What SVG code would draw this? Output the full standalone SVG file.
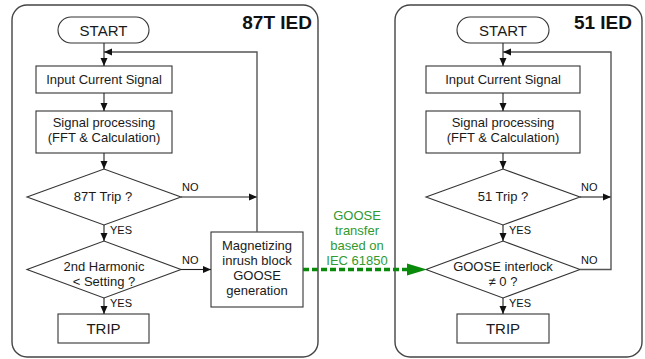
<svg xmlns="http://www.w3.org/2000/svg" width="645" height="359" viewBox="0 0 645 359">
  <defs>
    <marker id="arr" viewBox="0 0 8 8" refX="8" refY="4" markerWidth="8" markerHeight="8" markerUnits="userSpaceOnUse" orient="auto">
      <path d="M0,0.5 L8,4 L0,7.5 Z" fill="#111"/>
    </marker>
    <marker id="garr" viewBox="0 0 20 12" refX="20" refY="6" markerWidth="20" markerHeight="12" markerUnits="userSpaceOnUse" orient="auto">
      <path d="M0,0 L20,6 L0,12 Z" fill="#0a8a0a"/>
    </marker>
  </defs>
  <style>
    .panel { fill: #fff; stroke: #444; stroke-width: 1.4; }
    .box { fill: #fff; stroke: #333; stroke-width: 1.1; }
    .t { font-family: "Liberation Sans", Arial, sans-serif; font-size: 13px; fill: #1a1a1a; text-anchor: middle; }
    .big { font-size: 15px; }
    .title { font-family: "Liberation Sans", Arial, sans-serif; font-size: 19px; font-weight: bold; fill: #111; text-anchor: end; }
    .lbl { font-family: "Liberation Sans", Arial, sans-serif; font-size: 11px; fill: #111; }
    .line { fill: none; stroke: #222; stroke-width: 1.1; }
    .loop { fill: none; stroke: #555; stroke-width: 1.4; }
    .goose { fill: none; stroke: #0a8a0a; stroke-width: 3.5; stroke-dasharray: 6 3; }
    .gt { font-family: "Liberation Sans", Arial, sans-serif; font-size: 13px; fill: #2f9a2f; text-anchor: middle; }
  </style>

  <!-- IED frames -->
  <g id="panel-87t">
    <rect class="panel" x="12" y="5" width="306" height="352" rx="15"/>
    <text class="title" x="312" y="29">87T IED</text>
  </g>
  <g id="panel-51">
    <rect class="panel" x="395" y="5" width="247" height="352" rx="15"/>
    <text class="title" x="632" y="29">51 IED</text>
  </g>

  <!-- 87T IED flow -->
  <g id="start-87t">
    <rect class="box" x="58" y="17" width="91" height="26" rx="13"/>
    <text class="t big" x="103.5" y="36">START</text>
  </g>
  <g id="input-87t">
    <rect class="box" x="36" y="66" width="136" height="27"/>
    <text class="t" x="104" y="84">Input Current Signal</text>
  </g>
  <g id="proc-87t">
    <rect class="box" x="36" y="111" width="136" height="42"/>
    <text class="t" x="104" y="127">Signal processing</text>
    <text class="t" x="104" y="142">(FFT &amp; Calculation)</text>
  </g>
  <g id="trip-check-87t">
    <polygon class="box" points="27,197 104,169 181,197 104,225"/>
    <text class="t" x="103" y="201">87T Trip ?</text>
  </g>
  <g id="harmonic-check">
    <polygon class="box" points="27,269.5 104,241 181,269.5 104,298"/>
    <text class="t" x="104" y="271">2nd Harmonic</text>
    <text class="t" x="104" y="286">&lt; Setting ?</text>
  </g>
  <g id="trip-87t">
    <rect class="box" x="58" y="314" width="91" height="29"/>
    <text class="t big" x="103.5" y="334">TRIP</text>
  </g>
  <g id="inrush-goose">
    <rect class="box" x="211" y="232" width="92" height="75"/>
    <text class="t" x="257" y="250">Magnetizing</text>
    <text class="t" x="257" y="265">inrush block</text>
    <text class="t" x="257" y="280">GOOSE</text>
    <text class="t" x="257" y="295">generation</text>
  </g>

  <!-- 51 IED flow -->
  <g id="start-51">
    <rect class="box" x="457" y="17" width="92" height="26" rx="13"/>
    <text class="t big" x="503" y="36">START</text>
  </g>
  <g id="input-51">
    <rect class="box" x="426" y="66" width="154" height="27"/>
    <text class="t" x="503" y="84">Input Current Signal</text>
  </g>
  <g id="proc-51">
    <rect class="box" x="426" y="111" width="154" height="42"/>
    <text class="t" x="503" y="127">Signal processing</text>
    <text class="t" x="503" y="142">(FFT &amp; Calculation)</text>
  </g>
  <g id="trip-check-51">
    <polygon class="box" points="426,197 503,169 580,197 503,225"/>
    <text class="t" x="503" y="201">51 Trip ?</text>
  </g>
  <g id="interlock-check">
    <polygon class="box" points="426,269.5 503,241 580,269.5 503,298"/>
    <text class="t" x="503" y="271">GOOSE interlock</text>
    <text class="t" x="503" y="286">≠ 0 ?</text>
  </g>
  <g id="trip-51">
    <rect class="box" x="457" y="314" width="92" height="29"/>
    <text class="t big" x="503" y="334">TRIP</text>
  </g>

  <!-- connectors -->
  <g id="connectors">
    <path class="line" d="M104,43 V66" marker-end="url(#arr)"/>
    <path class="line" d="M104,93 V111" marker-end="url(#arr)"/>
    <path class="line" d="M104,153 V169" marker-end="url(#arr)"/>
    <path class="line" d="M104,225 V241" marker-end="url(#arr)"/>
    <path class="line" d="M104,298 V314" marker-end="url(#arr)"/>
    <path class="line" d="M181,197 H257" marker-end="url(#arr)"/>
    <path class="line" d="M181,269.5 H211" marker-end="url(#arr)"/>
    <path class="loop" d="M257,232 V52 H104" marker-end="url(#arr)"/>

    <path class="line" d="M503,43 V66" marker-end="url(#arr)"/>
    <path class="line" d="M503,93 V111" marker-end="url(#arr)"/>
    <path class="line" d="M503,153 V169" marker-end="url(#arr)"/>
    <path class="line" d="M503,225 V241" marker-end="url(#arr)"/>
    <path class="line" d="M503,298 V314" marker-end="url(#arr)"/>
    <path class="line" d="M580,197 H611" marker-end="url(#arr)"/>
    <path class="loop" d="M580,269.5 H611 V52 H503" marker-end="url(#arr)"/>

    <path class="goose" d="M303,269.5 H408"/>
    <path d="M407,263.5 L427,269.5 L407,275.5 Z" fill="#0a8a0a"/>

    <text class="lbl" x="182" y="191">NO</text>
    <text class="lbl" x="182" y="264">NO</text>
    <text class="lbl" x="110" y="234">YES</text>
    <text class="lbl" x="110" y="307">YES</text>
    <text class="lbl" x="581" y="191">NO</text>
    <text class="lbl" x="581" y="264">NO</text>
    <text class="lbl" x="509" y="234">YES</text>
    <text class="lbl" x="509" y="307">YES</text>

    <text class="gt" x="357" y="220">GOOSE</text>
    <text class="gt" x="357" y="235">transfer</text>
    <text class="gt" x="357" y="250">based on</text>
    <text class="gt" x="357" y="265">IEC 61850</text>
  </g>
</svg>
